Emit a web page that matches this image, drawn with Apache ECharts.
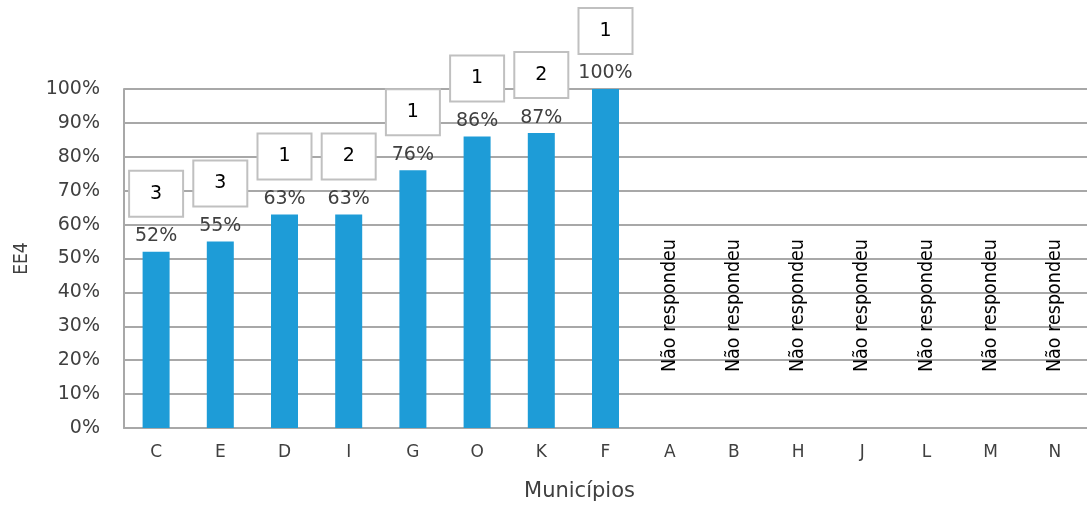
<!DOCTYPE html>
<html>
<head>
<meta charset="utf-8">
<title>EE4 por município</title>
<script src="https://cdn.jsdelivr.net/npm/echarts@6/dist/echarts.min.js"></script>
<style>
  html, body { margin: 0; padding: 0; background: #ffffff; }
  #chart { width: 1087px; height: 507px; }
</style>
</head>
<body>
<div id="chart"></div>
<script>
// Municípios, in the order they are plotted
const municipios = ['C', 'E', 'D', 'I', 'G', 'O', 'K', 'F', 'A', 'B', 'H', 'J', 'L', 'M', 'N'];
// EE4 share (%) per município; null = did not answer
const percentuais = [52, 55, 63, 63, 76, 86, 87, 100, null, null, null, null, null, null, null];
// Count shown in the box above each answered bar
const contagens = [3, 3, 1, 2, 1, 1, 2, 1, null, null, null, null, null, null, null];
const semResposta = 'Não respondeu';
const yTicks = [0, 10, 20, 30, 40, 50, 60, 70, 80, 90, 100];

const barColor = '#1e9cd7';
const textColor = '#404040';
const gridColor = '#a8a8a8';
const wideFont = '"DejaVu Sans", sans-serif';
const narrowFont = '"DejaVu Sans Condensed", "Liberation Sans Narrow", sans-serif';

const chart = echarts.init(document.getElementById('chart'), null, { renderer: 'canvas' });

const option = {
  animation: false,
  backgroundColor: '#ffffff',
  grid: { left: 124, top: 89, width: 974, height: 344, containLabel: false },
  xAxis: {
    type: 'category',
    data: municipios,
    name: 'Municípios',
    nameLocation: 'middle',
    nameGap: 53,
    nameTextStyle: { fontFamily: wideFont, fontSize: 21, color: textColor, padding: [0, 52, 0, 0] },
    axisLine: { show: true, lineStyle: { color: gridColor, width: 2 } },
    axisTick: { show: false },
    axisLabel: { fontFamily: wideFont, fontSize: 17, color: textColor, margin: 16 },
    splitLine: { show: false }
  },
  yAxis: {
    type: 'value',
    min: yTicks[0],
    max: yTicks[yTicks.length - 1],
    interval: yTicks[1] - yTicks[0],
    name: 'EE4',
    nameLocation: 'middle',
    nameGap: 92,
    nameTextStyle: { fontFamily: narrowFont, fontSize: 19, color: textColor },
    axisLine: { show: true, lineStyle: { color: gridColor, width: 2 } },
    axisTick: { show: false },
    axisLabel: { fontFamily: wideFont, fontSize: 19, color: textColor, margin: 24, formatter: '{value}%' },
    splitLine: { show: true, lineStyle: { color: gridColor, width: 2 } }
  },
  series: [
    {
      name: 'EE4',
      type: 'bar',
      data: percentuais,
      barWidth: 27,
      barGap: '-100%',
      itemStyle: { color: barColor },
      label: {
        show: true,
        position: 'top',
        distance: 6,
        formatter: p => p.value + '%',
        fontFamily: wideFont,
        fontSize: 19,
        color: textColor
      },
      z: 3
    },
    {
      name: 'Contagem',
      type: 'bar',
      data: percentuais,
      barWidth: 27,
      barGap: '-100%',
      itemStyle: { color: 'rgba(0,0,0,0)' },
      label: {
        show: true,
        position: 'top',
        distance: 36,
        formatter: p => contagens[p.dataIndex] == null ? '' : String(contagens[p.dataIndex]),
        fontFamily: wideFont,
        fontSize: 19,
        color: '#000000',
        backgroundColor: '#ffffff',
        borderColor: '#c0c0c0',
        borderWidth: 2,
        width: 52,
        height: 44,
        lineHeight: 44
      },
      z: 4
    },
    {
      name: semResposta,
      type: 'bar',
      data: percentuais.map(v => (v == null ? 0 : null)),
      barWidth: 27,
      barGap: '-100%',
      itemStyle: { color: 'rgba(0,0,0,0)' },
      label: {
        show: true,
        position: 'top',
        distance: 56,
        rotate: 90,
        align: 'left',
        verticalAlign: 'middle',
        formatter: semResposta,
        fontFamily: narrowFont,
        fontSize: 19.5,
        color: '#000000'
      },
      z: 4
    }
  ]
};

chart.setOption(option);
</script>
</body>
</html>
